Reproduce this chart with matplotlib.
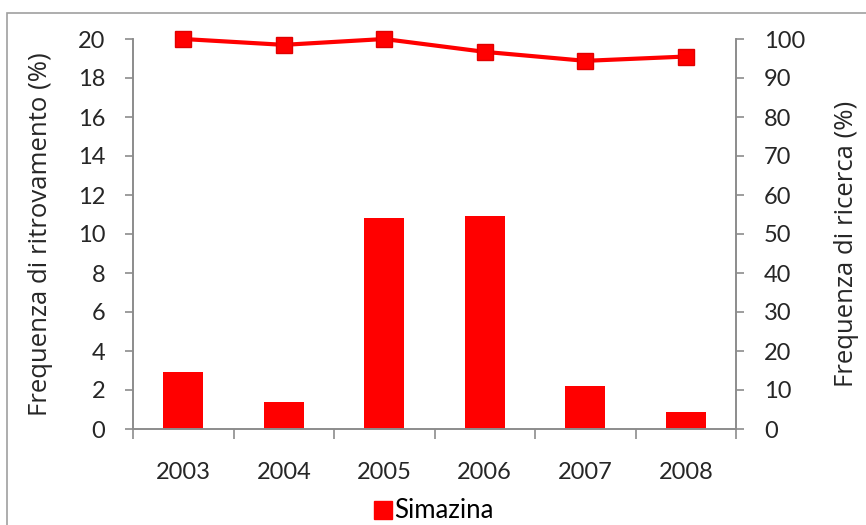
import matplotlib
matplotlib.use("Agg")
import matplotlib.pyplot as plt
from matplotlib.patches import Rectangle
from matplotlib.lines import Line2D
import numpy as np

years = ["2003", "2004", "2005", "2006", "2007", "2008"]
ritrovamento = [2.9, 1.4, 10.8, 10.9, 2.2, 0.85]   # left axis, bars
ricerca = [100.0, 98.5, 100.0, 96.7, 94.4, 95.5]   # right axis, line

RED = "#FF0000"
GREY = "#8C8C8C"
TICK_FONT = "Lato"
LABEL_FONT = "Open Sans"
TEXT = "#262626"

fig = plt.figure(figsize=(8.66, 5.25), dpi=100)
fig.patch.set_facecolor("white")

# chart frame
fig.add_artist(Rectangle((7 / 866, -0.1), 1.2, 1 - 13 / 525 + 0.1,
                         transform=fig.transFigure, fill=False,
                         edgecolor="#A0A0A0", linewidth=1.2))

ax = fig.add_axes([133 / 866, 1 - 429 / 525, (736 - 133) / 866, (429 - 39) / 525])
x = np.arange(len(years))
ax.bar(x, ritrovamento, width=0.4, color=RED, zorder=2)
ax.set_xlim(-0.5, len(years) - 0.5)
ax.set_ylim(0, 20)
ax.set_yticks(np.arange(0, 21, 2))

ax2 = ax.twinx()
ax2.plot(x, ricerca, color=RED, linewidth=3, marker="s", markersize=11.5,
         markeredgecolor="#E00000", zorder=3, clip_on=False)
ax2.set_ylim(0, 100)
ax2.set_yticks(np.arange(0, 101, 10))

for a in (ax, ax2):
    a.spines["top"].set_visible(False)
    for s in ("left", "right", "bottom"):
        a.spines[s].set_color(GREY)
        a.spines[s].set_linewidth(1.2)
    a.tick_params(axis="y", colors=GREY, length=6, width=1.2, direction="out",
                  labelcolor=TEXT, labelsize=17, pad=14)

ax.set_xticks(x)
ax.set_xticklabels(years)
ax.set_xticks(np.arange(-0.5, len(years)), minor=True)
ax.tick_params(axis="x", which="major", length=0, labelsize=17,
               labelcolor=TEXT, pad=24)
ax.tick_params(axis="x", which="minor", length=7, width=1.2, color=GREY,
               direction="out")
ax2.tick_params(axis="y", right=True, left=False)

for lbl in ax.get_xticklabels() + ax.get_yticklabels() + ax2.get_yticklabels():
    lbl.set_fontfamily(TICK_FONT)

ax.set_ylabel("Frequenza di ritrovamento (%)", fontsize=18.5,
              family=LABEL_FONT, color=TEXT)
ax.yaxis.set_label_coords(-0.132, 0.5)
ax2.set_ylabel("Frequenza di ricerca (%)", fontsize=18.5,
               family=LABEL_FONT, color=TEXT, rotation=90)
ax2.yaxis.set_label_coords(1.163, 0.475)

handle = Line2D([], [], linestyle="none", marker="s", markersize=13,
                color=RED)
fig.legend([handle], ["Simazina"], loc="center", bbox_to_anchor=(0.5, 1 - 511 / 525),
           frameon=False, prop={"family": TICK_FONT, "size": 18.5},
           handletextpad=0.05, handlelength=0.8)

fig.savefig("out.png", dpi=100, facecolor="white")
